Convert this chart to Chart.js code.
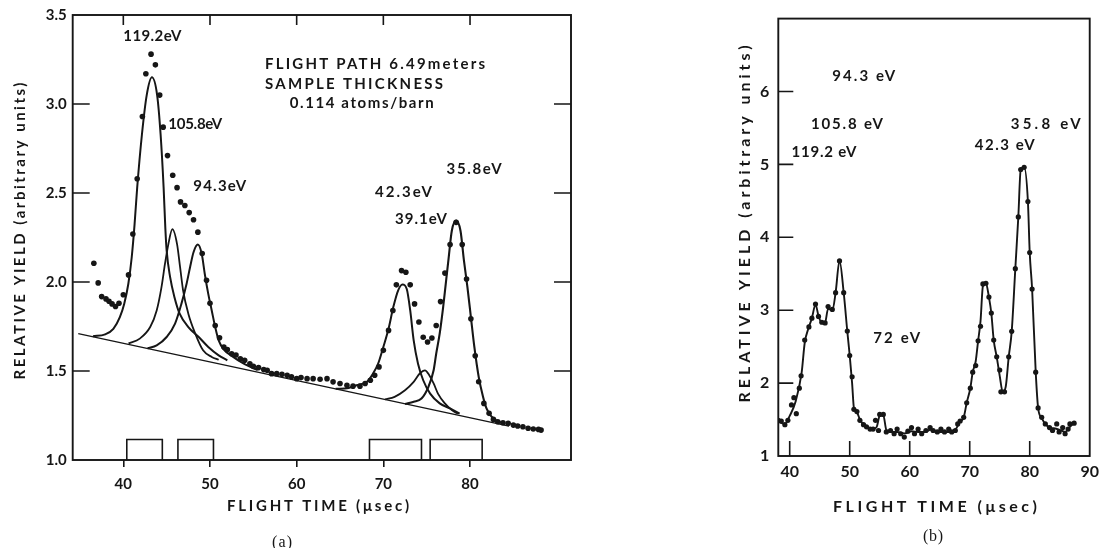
<!DOCTYPE html>
<html>
<head>
<meta charset="utf-8">
<script src="https://cdn.jsdelivr.net/npm/chart.js@4.4.1/dist/chart.umd.min.js"></script>
<style>
  html, body { margin: 0; padding: 0; background: #fff; }
  #wrap { position: relative; width: 1105px; height: 548px; overflow: hidden; background: #fff; }
  #chart-a { position: absolute; left: 0; top: 0; }
  #chart-b { position: absolute; left: 700px; top: 0; }
</style>
</head>
<body>
<div id="wrap">
  <canvas id="chart-a" width="610" height="548"></canvas>
  <canvas id="chart-b" width="405" height="548"></canvas>
</div>
<script>
// two panels of neutron time-of-flight yield, (a) with fitted resonances, (b) raw scan

// ---- panel (a) data ----
const xTicksA = [40, 50, 60, 70, 80];
const yTicksA = [1.0, 1.5, 2.0, 2.5, 3.0, 3.5];

const dotTimeA = [36.6, 37.1, 37.5, 38.0, 38.35, 38.7, 39.1, 39.5, 40.0, 40.6,
  41.1, 41.6, 42.2, 42.6, 43.2, 43.7, 44.2, 44.6, 45.1, 45.7,
  46.2, 46.6, 47.1, 47.6, 48.1, 48.6, 49.1, 49.6, 50.0, 50.6,
  51.1, 51.6, 52.0, 52.5, 53.0, 53.5, 54.0, 54.6, 55.0, 55.6,
  56.2, 56.6, 57.1, 57.7, 58.3, 58.9, 59.4, 60.0, 60.5, 61.2,
  61.9, 62.7, 63.5, 64.2, 65.0, 65.8, 66.5, 67.3, 67.9, 68.5,
  69.0, 69.5, 70.0, 70.6, 71.1, 71.5, 72.1, 72.6, 73.1, 73.6,
  74.1, 74.6, 75.1, 75.6, 76.1, 76.6, 77.1, 77.7, 78.4, 79.1,
  79.6, 80.1, 80.6, 81.0, 81.6, 82.2, 82.7, 83.2, 83.8, 84.4,
  85.0, 85.5, 86.1, 86.7, 87.3, 87.9, 88.2];
const dotYieldA = [2.105, 1.995, 1.918, 1.905, 1.892, 1.877, 1.862, 1.881, 1.928, 2.04,
  2.27, 2.58, 2.93, 3.17, 3.28, 3.22, 3.05, 2.87, 2.71, 2.60,
  2.53, 2.45, 2.43, 2.39, 2.35, 2.28, 2.16, 2.01, 1.88, 1.756,
  1.687, 1.635, 1.62, 1.597, 1.59, 1.569, 1.56, 1.541, 1.527, 1.519,
  1.508, 1.504, 1.485, 1.485, 1.482, 1.476, 1.467, 1.457, 1.463, 1.457,
  1.457, 1.454, 1.457, 1.439, 1.43, 1.42, 1.415, 1.415, 1.43, 1.448,
  1.476, 1.523, 1.616, 1.728, 1.84, 1.984, 2.064, 2.055, 1.984, 1.877,
  1.775, 1.69, 1.663, 1.685, 1.756, 1.89, 2.05, 2.21, 2.335, 2.21,
  2.017, 1.793, 1.585, 1.44, 1.318, 1.262, 1.228, 1.215, 1.209, 1.206,
  1.196, 1.191, 1.187, 1.178, 1.174, 1.172, 1.168];

// fitted resonance shapes
const fit119Time = [36.5, 37.9, 38.85, 39.6, 40.1, 40.58, 40.97, 41.3, 41.6, 42.15, 42.7, 43.3,
  43.9, 44.3, 44.65, 44.85, 45.0, 45.4, 45.9, 46.5, 47.5, 48.7, 49.8, 51.0, 52.0];
const fit119Yield = [1.695, 1.706, 1.737, 1.803, 1.877, 1.99, 2.139, 2.325, 2.53, 2.83, 3.05, 3.15,
  3.05, 2.83, 2.53, 2.30, 2.176, 2.027, 1.915, 1.822, 1.747, 1.691, 1.635, 1.588, 1.56];

const fit105Time = [40.6, 41.9, 43.1, 43.85, 44.4, 44.8, 45.2, 45.66, 46.2, 46.55, 46.9, 47.5, 48.3, 49.2, 50.2, 51.0];
const fit105Yield = [1.655, 1.682, 1.747, 1.84, 1.97, 2.10, 2.213, 2.297, 2.213, 2.083, 1.952, 1.822, 1.71, 1.616, 1.579, 1.563];

const fit94Time = [42.8, 43.85, 45.0, 45.97, 46.7, 47.3, 47.7, 48.1, 48.6, 49.05, 49.4, 49.8, 50.2, 50.6,
  51.0, 51.6, 52.5, 54.0, 55.5];
const fit94Yield = [1.628, 1.644, 1.691, 1.766, 1.877, 1.99, 2.083, 2.167, 2.21, 2.157, 2.045, 1.933, 1.84, 1.747,
  1.672, 1.62, 1.585, 1.538, 1.505];

const fit42Time = [64.5, 66.0, 66.9, 68.1, 68.8, 69.4, 70.0, 70.6, 71.15, 71.7, 72.2, 72.7, 73.1, 73.5,
  74.0, 74.6, 75.4, 76.5, 77.7, 78.8];
const fit42Yield = [1.40, 1.405, 1.42, 1.439, 1.485, 1.541, 1.635, 1.737, 1.859, 1.952, 1.986, 1.961, 1.84, 1.672,
  1.541, 1.448, 1.373, 1.318, 1.29, 1.26];

const fit39Time = [70.2, 71.3, 72.5, 73.5, 74.2, 74.8, 75.3, 75.8, 76.3, 77.1, 77.9, 78.6];
const fit39Yield = [1.34, 1.355, 1.392, 1.439, 1.486, 1.504, 1.476, 1.43, 1.373, 1.318, 1.28, 1.26];

const fit35Time = [72.5, 73.5, 74.4, 75.2, 75.8, 76.1, 76.5, 76.9, 77.2, 77.5, 77.9, 78.4,
  78.9, 79.3, 79.7, 80.1, 80.5, 81.0, 81.5, 81.9, 82.5, 83.1, 84.0];
const fit35Yield = [1.315, 1.327, 1.345, 1.411, 1.504, 1.598, 1.71, 1.859, 1.99, 2.12, 2.288, 2.345,
  2.288, 2.12, 1.971, 1.803, 1.635, 1.467, 1.355, 1.29, 1.243, 1.22, 1.205];

const baseTime = [34.8, 84.5];
const baseYield = [1.71, 1.19];

// resolution windows drawn along the time axis
const windowStart = [40.4, 46.3, 68.4, 75.4];
const windowEnd = [44.5, 50.4, 74.4, 81.4];
const windowTop = 1.115;

// ---- panel (b) data ----
const xTicksB = [40, 50, 60, 70, 80, 90];
const yTicksB = [1, 2, 3, 4, 5, 6];

const dotTimeB = [38.1, 38.6, 39.2, 39.7, 40.3, 40.7, 41.1, 41.6, 41.9, 42.5,
  43.2, 43.7, 44.3, 44.8, 45.35, 45.9, 46.4, 47.1, 47.65, 48.3,
  49.0, 49.6, 50.0, 50.4, 50.7, 51.2, 51.7, 52.3, 52.8, 53.4,
  53.9, 54.3, 54.8, 55.0, 55.6, 56.1, 56.8, 57.4, 57.9, 58.5,
  59.1, 59.7, 60.3, 60.8, 61.4, 62.0, 62.7, 63.4, 63.9, 64.6,
  65.2, 65.8, 66.5, 67.0, 67.6, 68.0, 68.4, 69.0, 69.5, 70.1,
  70.5, 71.0, 71.4, 71.8, 72.2, 72.7, 73.2, 73.6, 74.0, 74.5,
  75.0, 75.2, 75.8, 76.5, 77.0, 77.6, 78.1, 78.5, 79.07, 79.7,
  80.0, 80.4, 81.0, 81.4, 82.0, 82.6, 83.3, 83.8, 84.5, 84.9,
  85.5, 85.9, 86.4, 86.7, 87.4];
const dotYieldB = [1.49, 1.48, 1.43, 1.49, 1.70, 1.80, 1.58, 1.93, 2.10, 2.59,
  2.77, 2.89, 3.085, 2.915, 2.835, 2.826, 3.05, 3.01, 3.24, 3.676,
  3.24, 2.714, 2.378, 2.087, 1.64, 1.61, 1.49, 1.43, 1.40, 1.37,
  1.37, 1.49, 1.35, 1.57, 1.57, 1.33, 1.35, 1.305, 1.37, 1.305,
  1.26, 1.34, 1.39, 1.305, 1.37, 1.305, 1.35, 1.39, 1.35, 1.33,
  1.37, 1.33, 1.37, 1.33, 1.35, 1.44, 1.48, 1.53, 1.73, 1.93,
  2.15, 2.24, 2.58, 2.78, 3.36, 3.37, 3.18, 2.96, 2.59, 2.36,
  2.18, 1.88, 1.88, 2.36, 2.71, 3.57, 4.28, 4.93, 4.96, 4.49,
  3.79, 3.29, 2.15, 1.66, 1.53, 1.44, 1.39, 1.35, 1.44, 1.33,
  1.39, 1.305, 1.37, 1.44, 1.45];

// hand-drawn smooth line through the points
const curveTimeB = [38.1, 39.2, 40.0, 41.0, 42.0, 42.5, 43.2, 43.7, 44.3, 44.8,
  45.4, 45.9, 46.4, 47.1, 47.65, 48.3, 49.0, 49.6, 50.0, 50.4,
  50.7, 51.2, 51.7, 52.3, 53.0, 53.9, 54.5, 55.0, 55.6, 56.1,
  56.8, 57.9, 59.1, 60.3, 61.4, 62.7, 63.4, 64.6, 65.8, 67.0,
  67.6, 68.4, 69.0, 69.5, 70.1, 70.5, 71.0, 71.4, 71.8, 72.2,
  72.7, 73.2, 73.6, 74.0, 74.5, 75.0, 75.5, 76.0, 76.5, 77.0,
  77.6, 78.1, 78.5, 79.07, 79.7, 80.0, 80.4, 81.0, 81.4, 82.0,
  82.6, 83.3, 84.0, 84.9, 85.9, 86.7, 87.4];
const curveYieldB = [1.47, 1.44, 1.55, 1.75, 2.15, 2.55, 2.77, 2.89, 3.08, 2.92,
  2.82, 2.83, 3.02, 3.0, 3.24, 3.68, 3.24, 2.71, 2.38, 2.0,
  1.66, 1.60, 1.50, 1.43, 1.39, 1.37, 1.40, 1.55, 1.56, 1.36,
  1.33, 1.33, 1.31, 1.34, 1.33, 1.33, 1.36, 1.33, 1.33, 1.33,
  1.36, 1.47, 1.53, 1.73, 1.93, 2.15, 2.3, 2.58, 2.85, 3.33,
  3.37, 3.18, 2.96, 2.59, 2.36, 2.1, 1.88, 1.95, 2.36, 2.71,
  3.57, 4.28, 4.93, 4.96, 4.49, 3.79, 3.29, 2.15, 1.66, 1.52,
  1.44, 1.39, 1.38, 1.36, 1.33, 1.40, 1.45];

// ---- styling / helpers ----
const INK = "#161616";
const SANS = 'Lato, "DejaVu Sans", sans-serif';
const SERIF = '"Liberation Serif", serif';

function pts(xs, ys) {
  return xs.map((x, i) => ({ x: x, y: ys[i] }));
}

function windowOutline(starts, ends, top) {
  const out = [];
  starts.forEach((s, i) => {
    out.push({ x: s, y: 1 }, { x: s, y: top }, { x: ends[i], y: top }, { x: ends[i], y: 1 }, { x: ends[i], y: null });
  });
  return out;
}

function curveSet(xs, ys, width) {
  return {
    data: pts(xs, ys),
    showLine: true,
    borderColor: INK,
    borderWidth: width,
    pointRadius: 0,
    cubicInterpolationMode: "monotone",
    fill: false,
  };
}

function dotSet(xs, ys, r) {
  return {
    data: pts(xs, ys),
    showLine: false,
    pointRadius: r,
    pointBackgroundColor: INK,
    pointBorderWidth: 0,
  };
}

// spread text so it fills the given width, like the lettering in the original
function fitText(ctx, text, x, y, width, font, align) {
  ctx.save();
  ctx.font = font;
  ctx.letterSpacing = "0px";
  const w0 = ctx.measureText(text).width;
  const sp = text.length > 1 ? (width - w0) / (text.length - 1) : 0;
  ctx.letterSpacing = sp.toFixed(2) + "px";
  ctx.fillStyle = INK;
  ctx.textAlign = "left";
  ctx.textBaseline = "middle";
  ctx.fillText(text, align === "center" ? x - width / 2 : x, y);
  ctx.restore();
}

// frame, inward tick marks, annotations and axis titles
function framePlugin(spec) {
  return {
    id: "frame",
    afterDatasetsDraw(chart) {
      const { ctx, chartArea: a, scales } = chart;
      ctx.save();
      ctx.strokeStyle = INK;
      ctx.lineWidth = 1.9;
      ctx.strokeRect(a.left, a.top, a.right - a.left, a.bottom - a.top);
      ctx.lineWidth = 1.6;
      ctx.beginPath();
      (spec.leftTicks || []).forEach((v) => {
        const y = scales.y.getPixelForValue(v);
        ctx.moveTo(a.left, y);
        ctx.lineTo(a.left + spec.sideLen, y);
      });
      (spec.rightTicks || []).forEach((v) => {
        const y = scales.y.getPixelForValue(v);
        ctx.moveTo(a.right, y);
        ctx.lineTo(a.right - spec.sideLen, y);
      });
      (spec.topTicks || []).forEach((v) => {
        const x = scales.x.getPixelForValue(v);
        ctx.moveTo(x, a.top);
        ctx.lineTo(x, a.top + spec.topLen);
      });
      (spec.bottomTicks || []).forEach((v) => {
        const x = scales.x.getPixelForValue(v);
        ctx.moveTo(x, a.bottom);
        ctx.lineTo(x, a.bottom - spec.bottomLen);
      });
      ctx.stroke();
      ctx.restore();

      spec.labels.forEach((l) => {
        fitText(ctx, l.text, scales.x.getPixelForValue(l.x), scales.y.getPixelForValue(l.y), l.w, spec.labelFont, "left");
      });

      const yt = spec.yTitle;
      ctx.save();
      ctx.translate(yt.cx, yt.cy);
      ctx.rotate(-Math.PI / 2);
      fitText(ctx, yt.text, 0, 0, yt.w, yt.font, "center");
      ctx.restore();

      const xt = spec.xTitle;
      fitText(ctx, xt.text, xt.cx, xt.cy, xt.w, xt.font, "center");
      const cap = spec.caption;
      fitText(ctx, cap.text, cap.cx, cap.cy, cap.w, cap.font, "center");
    },
  };
}

function baseOptions(cfg) {
  return {
    responsive: false,
    animation: false,
    events: [],
    layout: { padding: cfg.padding },
    plugins: { legend: { display: false }, tooltip: { enabled: false } },
    scales: {
      x: {
        type: "linear",
        min: cfg.xMin,
        max: cfg.xMax,
        afterBuildTicks: (s) => { s.ticks = cfg.xTicks.map((v) => ({ value: v })); },
        afterFit: (s) => { s.height = cfg.xHeight; },
        grid: cfg.xGrid,
        border: { display: false },
        ticks: { color: INK, font: { family: SANS, size: cfg.tickSize, weight: "bold" }, padding: cfg.xPad, maxRotation: 0, autoSkip: false },
      },
      y: {
        min: cfg.yMin,
        max: cfg.yMax,
        afterBuildTicks: (s) => { s.ticks = cfg.yTicks.map((v) => ({ value: v })); },
        afterFit: (s) => { s.width = cfg.yWidth; },
        grid: { display: false, drawTicks: false },
        border: { display: false },
        ticks: { color: INK, font: { family: SANS, size: cfg.tickSize, weight: "bold" }, padding: cfg.yPad, autoSkip: false, callback: cfg.yFormat },
      },
    },
  };
}

// ---- panel (a) ----
const labelsA = [
  { text: "119.2eV", x: 40.0, y: 3.38, w: 58 },
  { text: "105.8eV", x: 45.19, y: 2.885, w: 54 },
  { text: "94.3eV", x: 48.07, y: 2.54, w: 53 },
  { text: "FLIGHT PATH 6.49meters", x: 56.35, y: 3.223, w: 220 },
  { text: "SAMPLE THICKNESS", x: 56.35, y: 3.11, w: 178 },
  { text: "0.114 atoms/barn", x: 59.2, y: 3.005, w: 144 },
  { text: "35.8eV", x: 77.3, y: 2.633, w: 55 },
  { text: "42.3eV", x: 69.03, y: 2.502, w: 57 },
  { text: "39.1eV", x: 71.34, y: 2.353, w: 52 },
];

const optsA = baseOptions({
  padding: { left: 0, top: 15, right: 39, bottom: 0 },
  xMin: 34.16, xMax: 91.65, xTicks: xTicksA, xHeight: 88, xPad: 8,
  xGrid: { display: true, drawOnChartArea: false, drawTicks: true, tickLength: 7, color: INK, lineWidth: 1.6 },
  yMin: 1, yMax: 3.5, yTicks: yTicksA, yWidth: 72.7, yPad: 6,
  tickSize: 15,
  yFormat: (v) => v.toFixed(1),
});

new Chart(document.getElementById("chart-a"), {
  type: "scatter",
  data: {
    datasets: [
      curveSet(baseTime, baseYield, 1.4),
      curveSet(fit119Time, fit119Yield, 2.0),
      curveSet(fit105Time, fit105Yield, 1.8),
      curveSet(fit94Time, fit94Yield, 2.0),
      curveSet(fit42Time, fit42Yield, 2.0),
      curveSet(fit39Time, fit39Yield, 1.8),
      curveSet(fit35Time, fit35Yield, 2.1),
      { data: windowOutline(windowStart, windowEnd, windowTop), showLine: true, borderColor: INK, borderWidth: 1.6, pointRadius: 0, tension: 0, spanGaps: false },
      dotSet(dotTimeA, dotYieldA, 2.8),
    ],
  },
  options: optsA,
  plugins: [framePlugin({
    leftTicks: [1.5, 2.0, 2.5, 3.0],
    rightTicks: [1.5, 2.0, 2.5, 3.0],
    topTicks: xTicksA,
    sideLen: 17,
    topLen: 10,
    labels: labelsA,
    labelFont: "bold 15px " + SANS,
    yTitle: { text: "RELATIVE YIELD (arbitrary units)", cx: 20, cy: 231, w: 297, font: "bold 15px " + SANS },
    xTitle: { text: "FLIGHT TIME (μsec)", cx: 318, cy: 506, w: 182, font: "bold 15px " + SANS },
    caption: { text: "(a)", cx: 282, cy: 543, w: 20, font: "16px " + SERIF },
  })],
});

// ---- panel (b) ----
const labelsB = [
  { text: "94.3 eV", x: 47.09, y: 6.204, w: 63 },
  { text: "105.8 eV", x: 43.55, y: 5.554, w: 72 },
  { text: "119.2 eV", x: 40.28, y: 5.165, w: 65 },
  { text: "35.8 eV", x: 76.83, y: 5.554, w: 70 },
  { text: "42.3 eV", x: 70.82, y: 5.264, w: 60 },
  { text: "72 eV", x: 53.91, y: 2.611, w: 47 },
];

const optsB = baseOptions({
  padding: { left: 0, top: 9, right: 10, bottom: 0 },
  xMin: 38.1, xMax: 90, xTicks: xTicksB, xHeight: 92, xPad: 6,
  xGrid: { display: false, drawTicks: false },
  yMin: 1, yMax: 7, yTicks: yTicksB, yWidth: 78.3, yPad: 9,
  tickSize: 16,
  yFormat: (v) => String(v),
});

new Chart(document.getElementById("chart-b"), {
  type: "scatter",
  data: {
    datasets: [
      curveSet(curveTimeB, curveYieldB, 1.9),
      dotSet(dotTimeB, dotYieldB, 2.6),
    ],
  },
  options: optsB,
  plugins: [framePlugin({
    leftTicks: [2, 3, 4, 5, 6],
    bottomTicks: [40, 50, 60, 70, 80],
    sideLen: 15,
    bottomLen: 15,
    labels: labelsB,
    labelFont: "bold 15px " + SANS,
    yTitle: { text: "RELATIVE YIELD (arbitrary units)", cx: 45, cy: 224, w: 357, font: "bold 16px " + SANS },
    xTitle: { text: "FLIGHT TIME (μsec)", cx: 235, cy: 507, w: 204, font: "bold 16px " + SANS },
    caption: { text: "(b)", cx: 233, cy: 537, w: 20, font: "16px " + SERIF },
  })],
});
</script>
</body>
</html>
